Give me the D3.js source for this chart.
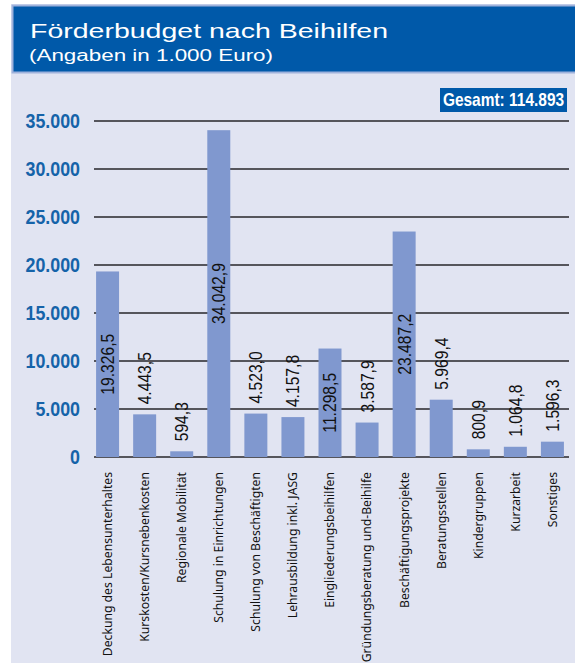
<!DOCTYPE html>
<html>
<head>
<meta charset="utf-8">
<script src="https://cdn.jsdelivr.net/npm/d3@7"></script>
<style>
  body { margin: 0; background: #ffffff; }
  svg { display: block; }
</style>
</head>
<body>
<div id="chart"></div>
<script>
// categories (bars, left to right)
var categories = [
    "Deckung des Lebensunterhaltes",
    "Kurskosten/Kursnebenkosten",
    "Regionale Mobilität",
    "Schulung in Einrichtungen",
    "Schulung von Beschäftigten",
    "Lehrausbildung inkl. JASG",
    "Eingliederungsbeihilfen",
    "Gründungsberatung und-Beihilfe",
    "Beschäftigungsprojekte",
    "Beratungsstellen",
    "Kindergruppen",
    "Kurzarbeit",
    "Sonstiges"
];

// budget in 1.000 Euro
var values = [19326.5, 4443.5, 594.3, 34042.9, 4523.0, 4157.8, 11298.5, 3587.9, 23487.2, 5969.4, 800.9, 1064.8, 1596.3];

// labels printed on the bars
var valueLabels = ["19.326,5", "4.443,5", "594,3", "34.042,9", "4.523,0", "4.157,8", "11.298,5", "3.587,9", "23.487,2", "5.969,4", "800,9", "1.064,8", "1.596,3"];

var yTicks = [0, 5000, 10000, 15000, 20000, 25000, 30000, 35000];
var yTickLabels = ["0", "5.000", "10.000", "15.000", "20.000", "25.000", "30.000", "35.000"];

var title = "Förderbudget nach Beihilfen";
var subtitle = "(Angaben in 1.000 Euro)";
var totalLabel = "Gesamt: 114.893";

var width = 575;
var height = 663;
var sans = "'Liberation Sans', Arial, sans-serif";
// the original uses a condensed face, so texts get squeezed along their run
var condense = 0.87;

var svg = d3.select("#chart")
    .append("svg")
    .attr("width", width)
    .attr("height", height);

// panel background
svg.append("rect")
    .attr("x", 11)
    .attr("y", 4)
    .attr("width", width - 11)
    .attr("height", height - 4)
    .attr("fill", "#e1e4f2");

// title box
svg.append("rect")
    .attr("x", 12.5)
    .attr("y", 5.5)
    .attr("width", width)
    .attr("height", 67)
    .attr("fill", "#0059a9")
    .attr("stroke", "#9fb2dc")
    .attr("stroke-width", 2);

svg.append("text")
    .attr("x", 30)
    .attr("y", 38)
    .attr("fill", "white")
    .attr("textLength", 358)
    .attr("lengthAdjust", "spacingAndGlyphs")
    .style("font-family", sans)
    .style("font-size", "21px")
    .text(title);

svg.append("text")
    .attr("x", 29)
    .attr("y", 61)
    .attr("fill", "white")
    .attr("textLength", 244)
    .attr("lengthAdjust", "spacingAndGlyphs")
    .style("font-family", sans)
    .style("font-size", "16px")
    .text(subtitle);

// total box
svg.append("rect")
    .attr("x", 440)
    .attr("y", 88)
    .attr("width", 127)
    .attr("height", 24)
    .attr("fill", "#0059a9");
svg.append("text")
    .attr("transform", "translate(503.5,106) scale(" + 0.86 + ",1)")
    .attr("text-anchor", "middle")
    .attr("fill", "white")
    .style("font-family", sans)
    .style("font-weight", "bold")
    .style("font-size", "18px")
    .text(totalLabel);

var yScale = d3.scaleLinear()
    .domain([0, 35000])
    .range([457, 121]);

var xScale = d3.scaleBand()
    .domain(categories)
    .range([82, 578])
    .padding(0.38);

// gridlines
svg.append("g")
    .selectAll("line")
    .data(yTicks)
    .enter()
    .append("line")
    .attr("x1", 94)
    .attr("x2", 569)
    .attr("y1", function (d) { return yScale(d); })
    .attr("y2", function (d) { return yScale(d); })
    .attr("stroke", "#55555c")
    .attr("stroke-width", 2);

// y axis labels
svg.append("g")
    .selectAll("text")
    .data(yTicks)
    .enter()
    .append("text")
    .attr("transform", function (d) {
        return "translate(80," + yScale(d) + ") scale(" + condense + ",1)";
    })
    .attr("dy", "0.36em")
    .attr("text-anchor", "end")
    .attr("fill", "#1563a9")
    .style("font-family", sans)
    .style("font-weight", "bold")
    .style("font-size", "20.5px")
    .text(function (d, i) { return yTickLabels[i]; });

// bars
svg.append("g")
    .selectAll("rect")
    .data(values)
    .enter()
    .append("rect")
    .attr("x", function (d, i) { return xScale(categories[i]); })
    .attr("y", function (d) { return yScale(d); })
    .attr("width", xScale.bandwidth())
    .attr("height", function (d) { return yScale(0) - yScale(d); })
    .attr("fill", "#8098cf");

// value labels: inside the tall bars, above the short ones
svg.append("g")
    .selectAll("text")
    .data(values)
    .enter()
    .append("text")
    .attr("transform", function (d, i) {
        var cx = xScale(categories[i]) + xScale.bandwidth() / 2;
        var y = d > 10000 ? yScale(d / 2) : yScale(d) - 10;
        return "translate(" + cx + "," + y + ") rotate(-90) scale(" + condense + ",1)";
    })
    .attr("text-anchor", function (d) { return d > 10000 ? "middle" : "start"; })
    .attr("dy", "0.36em")
    .attr("fill", "#111")
    .style("font-family", sans)
    .style("font-size", "18px")
    .text(function (d, i) { return valueLabels[i]; });

// category labels
svg.append("g")
    .selectAll("text")
    .data(categories)
    .enter()
    .append("text")
    .attr("transform", function (d) {
        var cx = xScale(d) + xScale.bandwidth() / 2;
        return "translate(" + cx + ",472) rotate(-90)";
    })
    .attr("text-anchor", "end")
    .attr("dy", "0.36em")
    .attr("fill", "#111")
    .style("font-family", "'Noto Sans', sans-serif")
    .style("font-size", "12.2px")
    .text(function (d) { return d; });
</script>
</body>
</html>
